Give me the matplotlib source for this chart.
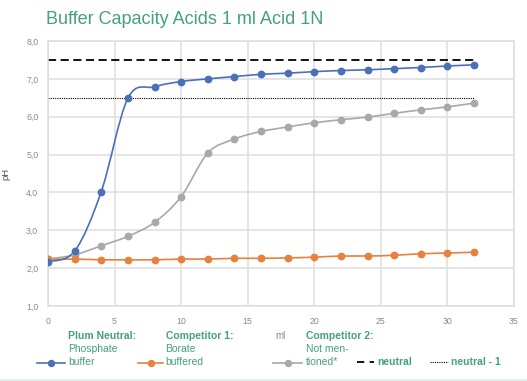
import matplotlib
matplotlib.use("Agg")
import matplotlib.pyplot as plt
from matplotlib.path import Path
from matplotlib.patches import PathPatch
from matplotlib.lines import Line2D
import numpy as np

plt.rcParams['font.family'] = ['Liberation Sans', 'DejaVu Sans']

# ---- data ----
ml = [0, 2, 4, 6, 8, 10, 12, 14, 16, 18, 20, 22, 24, 26, 28, 30, 32]
plum = [2.17, 2.45, 4.02, 6.49, 6.79, 6.93, 7.00, 7.06, 7.12, 7.15, 7.19, 7.22, 7.24, 7.27, 7.30, 7.34, 7.37]
comp1 = [2.23, 2.24, 2.22, 2.22, 2.22, 2.24, 2.24, 2.26, 2.26, 2.27, 2.29, 2.32, 2.32, 2.34, 2.38, 2.40, 2.42]
comp2 = [2.24, 2.35, 2.59, 2.84, 3.21, 3.89, 5.04, 5.41, 5.61, 5.73, 5.84, 5.92, 5.99, 6.09, 6.18, 6.26, 6.36]
neutral = 7.5
neutral_minus_1 = 6.5
xticks = [0, 5, 10, 15, 20, 25, 30, 35]
yticks = [1, 2, 3, 4, 5, 6, 7, 8]
ytick_labels = ["1,0", "2,0", "3,0", "4,0", "5,0", "6,0", "7,0", "8,0"]
title = "Buffer Capacity Acids 1 ml Acid 1N"

BLUE = "#4a70b8"
ORANGE = "#e8803e"
GRAY = "#a8a8a8"
GREEN = "#45a07f"
TICK = "#8a8a8a"
GRID = "#dedede"

W, H = 527, 381
fig = plt.figure(figsize=(W / 100, H / 100), dpi=100)

def fx(px):
    return px / W

def fy(py):
    return 1 - py / H

ax = fig.add_axes([fx(48), fy(306), fx(514) - fx(48), fy(41) - fy(306)])
ax.set_xlim(0, 35)
ax.set_ylim(1, 8)
ax.set_xticks(xticks)
ax.set_yticks(yticks)
ax.set_yticklabels(ytick_labels)
ax.tick_params(length=0, labelsize=6.3, labelcolor=TICK)
ax.tick_params(axis="y", pad=7)
ax.tick_params(axis="x", pad=8)
ax.grid(True, color=GRID, linewidth=1.1)
ax.set_axisbelow(True)
for s in ax.spines.values():
    s.set_color(GRID)
    s.set_linewidth(1.1)
ax.set_ylabel("pH", fontsize=6.8, color="#555555", labelpad=11)


def smooth_path(x, y):
    pts = np.column_stack([x, y]).astype(float)
    n = len(pts)
    verts = [pts[0]]
    codes = [Path.MOVETO]
    for i in range(n - 1):
        p0 = pts[i - 1] if i > 0 else pts[i]
        p1 = pts[i]
        p2 = pts[i + 1]
        p3 = pts[i + 2] if i + 2 < n else pts[i + 1]
        c1 = p1 + (p2 - p0) / 6.0
        c2 = p2 - (p3 - p1) / 6.0
        verts += [c1, c2, p2]
        codes += [Path.CURVE4] * 3
    return Path(verts, codes)


for ys, col in [(comp2, GRAY), (comp1, ORANGE), (plum, BLUE)]:
    ax.add_patch(PathPatch(smooth_path(ml, ys), facecolor="none", edgecolor=col,
                           linewidth=1.2, zorder=3))
    ax.plot(ml, ys, linestyle="none", marker="o", markersize=4.6, color=col, zorder=4)

ax.plot([ml[0], ml[-1]], [neutral, neutral], color="black", linewidth=1.3,
        dashes=(4.5, 2.5), zorder=2)
ax.plot([ml[0], ml[-1]], [neutral_minus_1, neutral_minus_1], color="black",
        linewidth=0.8, linestyle=(0, (1, 1)), zorder=2)

# title
fig.text(fx(46), fy(19), title, fontsize=13, color=GREEN, va="center", ha="left")

# x label
fig.text(fx(281), fy(336), "ml", fontsize=7, color=TICK, ha="center", va="center")

# custom legend
LS = 7.5

def legend_text(x, lines):
    for i, t in enumerate(lines):
        fig.text(fx(x), fy(336 + 13 * i), t, fontsize=LS, color=GREEN,
                 fontweight="bold" if i == 0 else "normal", ha="left", va="center")

def glyph(x0, x1, y, **kw):
    fig.add_artist(Line2D([fx(x0), fx(x1)], [fy(y), fy(y)], transform=fig.transFigure, **kw))

glyph(37, 65, 363, color=BLUE, linewidth=1.2)
fig.add_artist(Line2D([fx(51)], [fy(363)], transform=fig.transFigure, marker="o",
                      markersize=4.3, color=BLUE, linestyle="none"))
legend_text(68, ["Plum Neutral:", "Phosphate", "buffer"])

glyph(138, 163, 363, color=ORANGE, linewidth=1.2)
fig.add_artist(Line2D([fx(150.5)], [fy(363)], transform=fig.transFigure, marker="o",
                      markersize=4.3, color=ORANGE, linestyle="none"))
legend_text(165.5, ["Competitor 1:", "Borate", "buffered"])

glyph(273, 302, 363, color=GRAY, linewidth=1.2)
fig.add_artist(Line2D([fx(287.5)], [fy(363)], transform=fig.transFigure, marker="o",
                      markersize=4.3, color=GRAY, linestyle="none"))
legend_text(305.5, ["Competitor 2:", "Not men-", "tioned*"])

glyph(357, 374, 362, color="black", linewidth=1.3, dashes=(4, 3))
fig.text(fx(377), fy(362), "neutral", fontsize=LS, color=GREEN, fontweight="bold",
         ha="left", va="center")

glyph(430, 448, 362, color="black", linewidth=0.8, linestyle=(0, (1, 1)))
fig.text(fx(451), fy(362), "neutral - 1", fontsize=LS, color=GREEN, fontweight="bold",
         ha="left", va="center")

# bottom separator line
fig.add_artist(Line2D([0, 1], [fy(379.5), fy(379.5)], transform=fig.transFigure,
                      color="#dcebe6", linewidth=1.2))

fig.savefig("out.png", dpi=100)
